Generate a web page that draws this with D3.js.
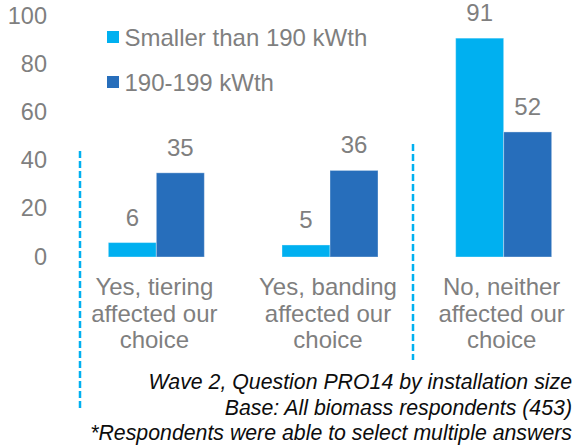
<!DOCTYPE html>
<html>
<head>
<meta charset="utf-8">
<script src="https://cdn.jsdelivr.net/npm/d3@7"></script>
<style>
  html, body { margin: 0; padding: 0; background: #fff; }
  svg { display: block; }
</style>
</head>
<body>
<svg id="chart" width="576" height="445"></svg>
<script>
// Survey responses by installation size (%)
const categories = [
  ["Yes, tiering", "affected our", "choice"],
  ["Yes, banding", "affected our", "choice"],
  ["No, neither", "affected our", "choice"]
];
const seriesNames = ["Smaller than 190 kWth", "190-199 kWth"];
const smallerValues = [6, 5, 91];
const midValues = [35, 36, 52];
const yTicks = [0, 20, 40, 60, 80, 100];
const footnotes = [
  "Wave 2, Question PRO14 by installation size",
  "Base: All biomass respondents (453)",
  "*Respondents were able to select multiple answers"
];

const colors = ["#00b0f0", "#276ebb"];
const gray = "#7f7f7f";
const font = "'Liberation Sans', Arial, sans-serif";

const svg = d3.select("#chart");
const keys = categories.map(c => c.join(" "));

const x = d3.scaleBand().domain(keys).range([69.5, 590.5]).padding(0);
const x1 = d3.scaleBand().domain(seriesNames)
  .range([x.bandwidth() / 2 - 48, x.bandwidth() / 2 + 48]).padding(0);
const y = d3.scaleLinear().domain([0, 100]).range([257, 16.5]);

// Y axis: labels only
const yAxis = d3.axisLeft(y).tickValues(yTicks).tickSize(0).tickPadding(0);
const gy = svg.append("g").attr("transform", "translate(47,-0.5)").call(yAxis);
gy.select(".domain").remove();
gy.selectAll("text")
  .attr("fill", gray)
  .style("font-family", font)
  .style("font-size", "23.5px");

// Dashed separators
const sep = [
  { x: 80, y1: 151, y2: 408 },
  { x: 413, y1: 144, y2: 360 }
];
svg.append("g").selectAll("line").data(sep).join("line")
  .attr("x1", d => d.x).attr("x2", d => d.x)
  .attr("y1", d => d.y1).attr("y2", d => d.y2)
  .attr("stroke", "#00b0f0")
  .attr("stroke-width", 2.5)
  .attr("stroke-dasharray", "7,3");

// Bars
const rows = keys.map((k, i) => ({
  key: k,
  vals: [
    { name: seriesNames[0], v: smallerValues[i] },
    { name: seriesNames[1], v: midValues[i] }
  ]
}));

const groups = svg.append("g").selectAll("g").data(rows).join("g")
  .attr("transform", d => `translate(${x(d.key)},0)`);

groups.selectAll("rect").data(d => d.vals).join("rect")
  .attr("x", d => x1(d.name))
  .attr("width", x1.bandwidth())
  .attr("y", d => y(d.v))
  .attr("height", d => y(0) - y(d.v))
  .attr("fill", (d, i) => colors[i])
  .attr("stroke", "#ffffff")
  .attr("stroke-opacity", 0.35)
  .attr("stroke-width", 1);

groups.selectAll("text.val").data(d => d.vals).join("text")
  .attr("class", "val")
  .attr("x", d => x1(d.name) + x1.bandwidth() / 2)
  .attr("y", d => y(d.v) - 17)
  .attr("text-anchor", "middle")
  .attr("fill", gray)
  .style("font-family", font)
  .style("font-size", "24px")
  .text(d => d.v);

// Category labels
const cat = svg.append("g").selectAll("text").data(categories).join("text")
  .attr("text-anchor", "middle")
  .attr("fill", gray)
  .style("font-family", font)
  .style("font-size", "24px")
  .attr("transform", (d, i) => `translate(${x(keys[i]) + x.bandwidth() / 2 - 2},295)`);
cat.selectAll("tspan").data(d => d).join("tspan")
  .attr("x", 0)
  .attr("dy", (d, i) => i === 0 ? 0 : 26.5)
  .text(d => d);

// Legend
const legendPos = [{ x: 107, y: 37 }, { x: 107, y: 82 }];
const leg = svg.append("g").selectAll("g").data(seriesNames).join("g")
  .attr("transform", (d, i) => `translate(${legendPos[i].x},${legendPos[i].y})`);
leg.append("rect")
  .attr("x", 0).attr("y", -6).attr("width", 12).attr("height", 12)
  .attr("fill", (d, i) => colors[i]);
leg.append("text")
  .attr("x", 17.5).attr("y", 8.5)
  .attr("fill", gray)
  .style("font-family", font)
  .style("font-size", "24px")
  .text(d => d);

// Footnotes
svg.append("g").selectAll("text").data(footnotes).join("text")
  .attr("x", 572)
  .attr("y", (d, i) => 389 + i * 25.5)
  .attr("text-anchor", "end")
  .attr("fill", "#0d0d0d")
  .style("font-family", font)
  .style("font-style", "italic")
  .style("font-size", "21.3px")
  .text(d => d);
</script>
</body>
</html>
